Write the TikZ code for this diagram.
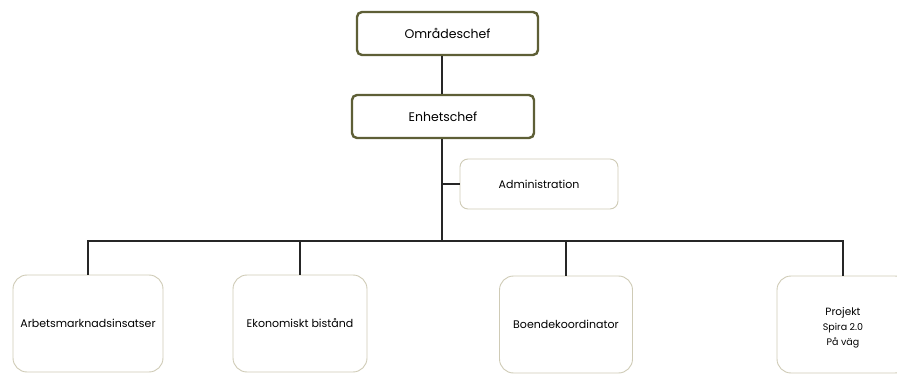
\documentclass[tikz,border=0pt]{standalone}
\usepackage{fontspec}
\setmainfont{Poppins}
\usepackage{tikz}
\usetikzlibrary{positioning}
\definecolor{olivedark}{HTML}{5E5F36}
\definecolor{paleframe}{HTML}{CFCBB6}

\begin{document}
\begin{tikzpicture}[
  x=1pt, y=-1pt,
  font=\fontsize{11}{13}\selectfont,
  % --- Estilos de los Nodos ---
  chief/.style={
    rectangle,
    draw=olivedark,
    line width=2.4pt,
    rounded corners=5pt,
    fill=white,
    font=\fontsize{12.5}{14}\selectfont,
    minimum width=181pt,
    minimum height=43pt,
    align=center
  },
  staffbox/.style={
    rectangle,
    draw=paleframe,
    line width=0.9pt,
    rounded corners=8pt,
    fill=white,
    minimum width=158pt,
    minimum height=50pt,
    align=center
  },
  unitbox/.style={
    rectangle,
    draw=paleframe,
    line width=0.9pt,
    rounded corners=14pt,
    fill=white,
    minimum height=97pt,
    align=center
  },
  line/.style={
    draw=black!85,
    line width=1.2pt
  }
]
\useasboundingbox (0,0) rectangle (897,374);
\clip (0,0) rectangle (897,374);

% ---- LEDNING ----
\node[chief] (omr) at (447.5,33.5) {Områdeschef};
\node[chief, minimum width=182pt] (enh) at (443,116.5) {Enhetschef};
\node[staffbox] (adm) at (539,184) {Administration};
\coordinate (bus) at (442,241);

% ---- ENHETER ----
\node[unitbox, minimum width=150pt] (arb) at (88,323.5) {\raisebox{-4pt}{Arbetsmarknadsinsatser}};
\node[unitbox, minimum width=134pt] (eko) at (300,323.5) {\raisebox{-4pt}{Ekonomiskt bistånd}};
\node[unitbox, minimum width=133pt] (boe) at (566,324.5) {Boendekoordinator};
\node[unitbox, minimum width=132pt, font=\fontsize{9.5}{15}\selectfont] (pro) at (843,324.5)
  {\rule{0pt}{14pt}{\fontsize{10.5}{15}\selectfont Projekt}\\Spira 2.0\\På väg};

% ---- CONEXIONES ----
\draw[line] ([xshift=-1pt]enh.north |- omr.south) -- ([xshift=-1pt]enh.north);
\draw[line] ([xshift=-1pt]enh.south) -- (bus);
\draw[line] (adm.west) -- (adm.west -| bus);
\draw[line] (arb.north) -- (arb.north |- bus) -- (pro.north |- bus) -- (pro.north);
\draw[line] (eko.north) -- (eko.north |- bus);
\draw[line] (boe.north) -- (boe.north |- bus);

\end{tikzpicture}
\end{document}
